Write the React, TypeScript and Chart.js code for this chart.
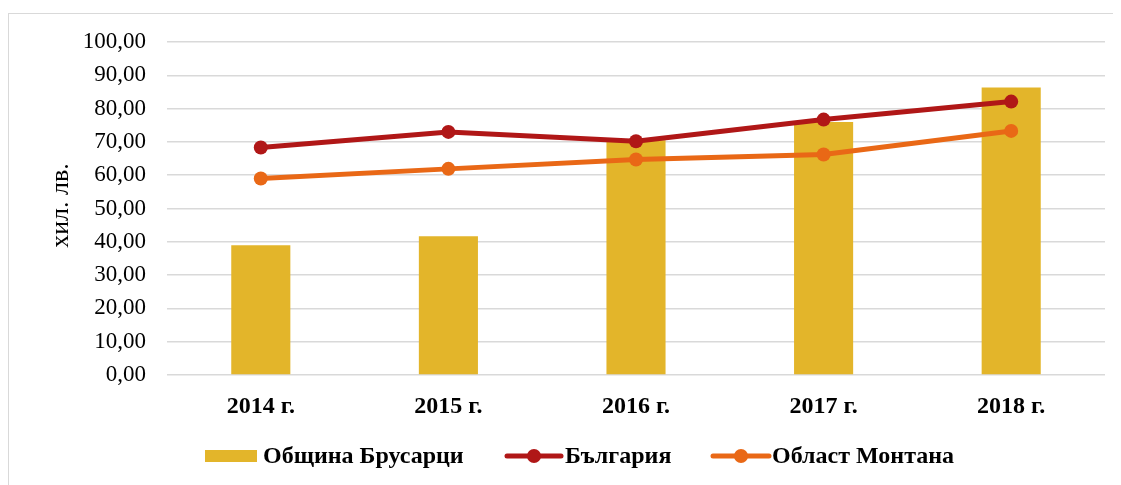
import React, { useEffect, useRef } from "react";
import { Chart, registerables } from "chart.js";

Chart.register(...registerables);

const categories = ["2014 г.", "2015 г.", "2016 г.", "2017 г.", "2018 г."];
const brusartsi = [39.0, 41.7, 70.5, 76.0, 86.3];
const bulgaria = [68.3, 73.0, 70.2, 76.7, 82.1];
const montana = [59.0, 61.9, 64.7, 66.2, 73.3];
const seriesNames = ["Община Брусарци", "България", "Област Монтана"];
const yTitle = "хил. лв.";
const yMin = 0;
const yMax = 100;
const yStep = 10;

const BAR = "#E3B52A";
const RED = "#B01717";
const ORANGE = "#E96816";
const GRID = "#D9D9D9";
const FONT = "'Liberation Serif', 'Times New Roman', serif";

const customPlugin = {
  id: "customDecor",
  afterDraw(chart: any) {
    const ctx = chart.ctx as CanvasRenderingContext2D;
    const area = chart.chartArea;
    ctx.save();
    // y title
    ctx.fillStyle = "#000";
    ctx.font = `26px ${FONT}`;
    ctx.textAlign = "center";
    ctx.textBaseline = "middle";
    ctx.translate(52, (area.top + area.bottom) / 2 - 3);
    ctx.rotate(-Math.PI / 2);
    ctx.fillText(yTitle, 0, 0);
    ctx.restore();

    // legend
    ctx.save();
    const cy = 442;
    ctx.font = `bold 24px ${FONT}`;
    ctx.textBaseline = "middle";
    ctx.textAlign = "left";
    ctx.fillStyle = BAR;
    ctx.fillRect(196, cy - 6, 52, 12);
    ctx.fillStyle = "#000";
    ctx.fillText(seriesNames[0], 254, cy + 1);
    const lineItem = (x0: number, x1: number, color: string, label: string, tx: number) => {
      ctx.strokeStyle = color;
      ctx.lineWidth = 5;
      ctx.lineCap = "round";
      ctx.beginPath();
      ctx.moveTo(x0, cy);
      ctx.lineTo(x1, cy);
      ctx.stroke();
      ctx.fillStyle = color;
      ctx.beginPath();
      ctx.arc((x0 + x1) / 2, cy, 7, 0, Math.PI * 2);
      ctx.fill();
      ctx.fillStyle = "#000";
      ctx.fillText(label, tx, cy + 1);
    };
    lineItem(498, 552, RED, seriesNames[1], 556);
    lineItem(704, 760, ORANGE, seriesNames[2], 763);
    ctx.restore();
  },
};

export default function App() {
  const ref = useRef<HTMLCanvasElement | null>(null);
  useEffect(() => {
    if (!ref.current) return;
    const chart = new Chart(ref.current, {
      type: "bar",
      data: {
        labels: categories,
        datasets: [
          {
            type: "line",
            label: seriesNames[1],
            data: bulgaria,
            borderColor: RED,
            backgroundColor: RED,
            borderWidth: 5,
            pointRadius: 7,
            pointHoverRadius: 7,
            pointBackgroundColor: RED,
            pointBorderWidth: 0,
            tension: 0,
            order: 1,
          },
          {
            type: "line",
            label: seriesNames[2],
            data: montana,
            borderColor: ORANGE,
            backgroundColor: ORANGE,
            borderWidth: 5,
            pointRadius: 7,
            pointHoverRadius: 7,
            pointBackgroundColor: ORANGE,
            pointBorderWidth: 0,
            tension: 0,
            order: 2,
          },
          {
            type: "bar",
            label: seriesNames[0],
            data: brusartsi,
            backgroundColor: BAR,
            borderWidth: 0,
            barPercentage: 0.315,
            categoryPercentage: 1,
            order: 3,
          },
        ],
      },
      options: {
        responsive: false,
        animation: false,
        layout: { padding: { top: 28, right: 16, left: 0, bottom: 0 } },
        plugins: {
          legend: { display: false },
          tooltip: { enabled: false },
          title: { display: false },
        },
        scales: {
          x: {
            offset: true,
            grid: { display: false, drawTicks: false },
            border: { display: false },
            ticks: {
              color: "#000",
              font: { family: FONT, size: 24, weight: "bold" },
              padding: 17,
              maxRotation: 0,
            },
            afterFit: (scale: any) => {
              scale.height = 110;
              scale.paddingLeft = 0;
              scale.paddingRight = 0;
            },
          },
          y: {
            min: yMin,
            max: yMax,
            grid: { color: GRID, lineWidth: 1.5, drawTicks: false },
            border: { display: false },
            ticks: {
              stepSize: yStep,
              color: "#000",
              font: { family: FONT, size: 23 },
              padding: 21,
              callback: (v: any) => Number(v).toFixed(2).replace(".", ","),
            },
            afterFit: (scale: any) => {
              scale.width = 158;
              scale.paddingTop = 0;
              scale.paddingBottom = 0;
            },
          },
        },
      },
      plugins: [customPlugin],
    });
    return () => chart.destroy();
  }, []);
  return (
    <div
      style={{
        position: "relative",
        marginTop: 5,
        width: 1112,
        height: 471,
        borderTop: `1px solid ${GRID}`,
        borderLeft: `1px solid ${GRID}`,
      }}
    >
      <canvas ref={ref} width={1112} height={471} style={{ display: "block", width: 1112, height: 471 }} />
    </div>
  );
}
